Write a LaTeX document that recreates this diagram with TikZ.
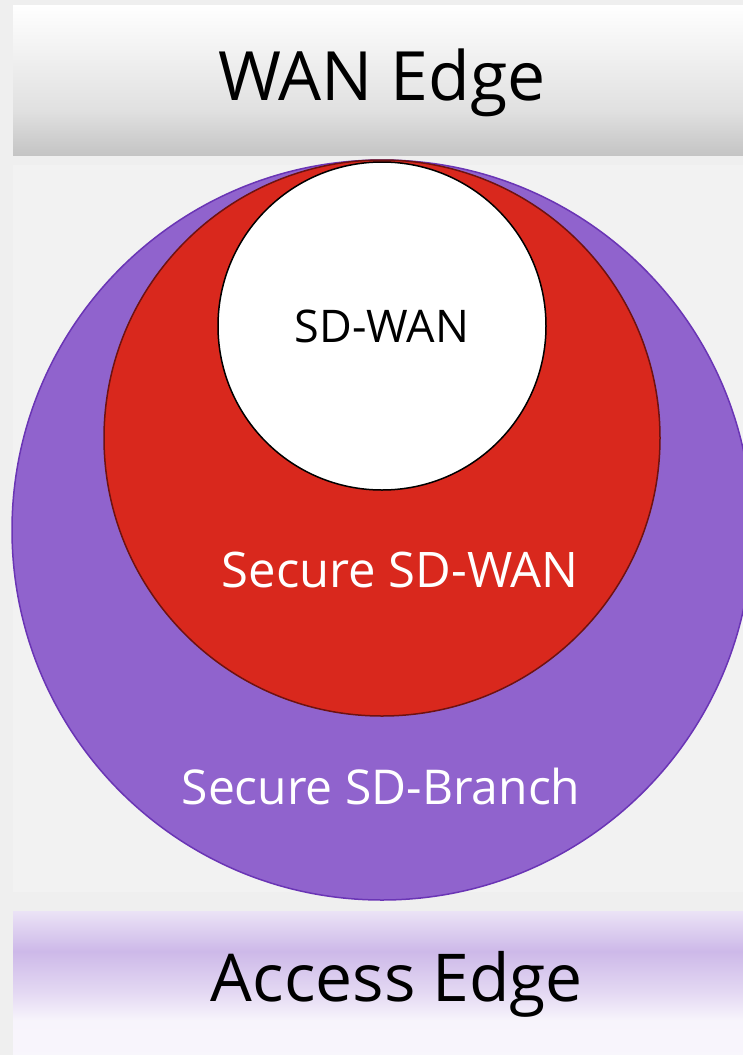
\documentclass[tikz,border=0pt]{standalone}
\usepackage{fontspec}
\setmainfont{Open Sans}

\definecolor{margingray}{HTML}{EFEFEF}
\definecolor{panelgray}{HTML}{F2F2F2}
\definecolor{branchfill}{HTML}{9063CD}
\definecolor{branchline}{HTML}{6A35B5}
\definecolor{securefill}{HTML}{D9281D}
\definecolor{secureline}{HTML}{6E1210}

% vertical fades for the two edge bands (25bp = bottom, 75bp = top)
\pgfdeclareverticalshading{wanfade}{100bp}{
  color(0bp)=(black!23); color(25bp)=(black!23); color(40bp)=(black!12);
  color(60bp)=(black!5); color(75bp)=(white); color(100bp)=(white)}
\pgfdeclareverticalshading{accessfade}{100bp}{
  color(0bp)=(branchfill!6); color(25bp)=(branchfill!6); color(37bp)=(branchfill!7);
  color(47bp)=(branchfill!25); color(61bp)=(branchfill!45); color(75bp)=(branchfill!18);
  color(100bp)=(branchfill!18)}

\tikzset{
  ring/.style={circle, inner sep=0pt, minimum size=#1},
  bandtext/.style={anchor=base, font=\fontsize{68}{80}\selectfont},
  ringtext/.style={anchor=base, text=white, font=\fontsize{49}{58}\selectfont},
}

\begin{document}
\begin{tikzpicture}[x=1pt,y=-1pt]
  \useasboundingbox[fill=margingray] (0,0) rectangle (743,1055);

  %% bands and the middle panel
  \shade[shading=wanfade] (13,5) rectangle (743,155);
  \fill[panelgray] (13,165) rectangle (743,892);
  \shade[shading=accessfade] (13,911) rectangle (743,1055);

  \node[bandtext] (wan) at (382,100) {WAN Edge};
  \node[bandtext, font=\fontsize{66}{78}\selectfont] (access) at (397,1001) {Access Edge};

  %% nested circles
  \node[ring=740pt, fill=branchfill, draw=branchline, line width=1.5pt] (branch) at (382,530) {};
  \node[ring=556pt, fill=securefill, draw=secureline, line width=1.5pt] (secure) at (382,438) {};
  \node[ring=328pt, fill=white, draw=black, line width=1.5pt,
        font=\fontsize{45}{54}\selectfont] (sdwan) at (382,326) {SD-WAN};

  \node[ringtext] (securelbl) at (400,587) {Secure SD-WAN};
  \node[ringtext, font=\fontsize{48}{58}\selectfont] (branchlbl) at (381,804) {Secure SD-Branch};
\end{tikzpicture}
\end{document}
